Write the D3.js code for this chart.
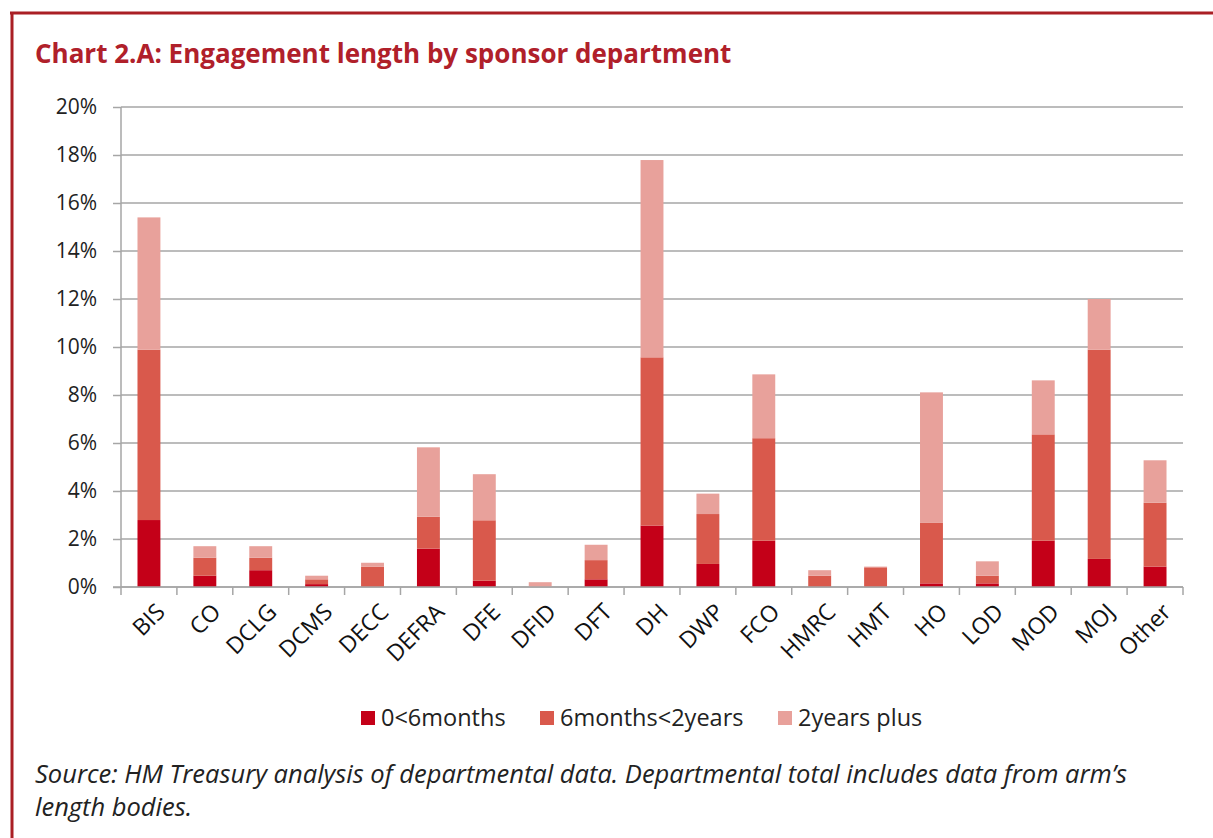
<!DOCTYPE html>
<html>
<head>
<meta charset="utf-8">
<script src="https://d3js.org/d3.v7.min.js"></script>
<style>
  body { margin: 0; background: #fff; }
  svg { display: block; font-family: "Open Sans", "Noto Sans", sans-serif; }
</style>
</head>
<body>
<div id="chart"></div>
<script>
// data (percent of total)
var departments = ["BIS", "CO", "DCLG", "DCMS", "DECC", "DEFRA", "DFE", "DFID", "DFT", "DH",
  "DWP", "FCO", "HMRC", "HMT", "HO", "LOD", "MOD", "MOJ", "Other"];
var under6months = [2.79, 0.47, 0.70, 0.12, 0.00, 1.60, 0.26, 0.00, 0.32, 2.56,
  0.96, 1.93, 0.00, 0.00, 0.15, 0.15, 1.93, 1.17, 0.85];
var sixMonthsTo2Years = [7.10, 0.75, 0.52, 0.20, 0.85, 1.33, 2.52, 0.00, 0.80, 7.01,
  2.08, 4.27, 0.47, 0.82, 2.52, 0.32, 4.43, 8.72, 2.66];
var twoYearsPlus = [5.51, 0.48, 0.48, 0.15, 0.16, 2.89, 1.92, 0.20, 0.64, 8.22,
  0.85, 2.66, 0.23, 0.03, 5.44, 0.60, 2.25, 2.11, 1.77];
var seriesNames = ["0<6months", "6months<2years", "2years plus"];
var yTicks = [0, 2, 4, 6, 8, 10, 12, 14, 16, 18, 20];

var width = 1213, height = 838;
var colors = ["#C40018", "#D9594C", "#E8A19B"];
var red = "#B0202A";
var font = "'Open Sans', 'Noto Sans', sans-serif";

var svg = d3.select("#chart").append("svg")
  .attr("width", width)
  .attr("height", height);

// frame (top and left red border)
svg.append("line")
  .attr("x1", 10).attr("x2", width).attr("y1", 13).attr("y2", 13)
  .style("stroke", "#AA1F24").style("stroke-width", 3);
svg.append("line")
  .attr("x1", 12).attr("x2", 12).attr("y1", 12).attr("y2", height)
  .style("stroke", "#AA1F24").style("stroke-width", 3);

// title
svg.append("text")
  .attr("x", 35)
  .attr("y", 63)
  .style("font-size", "26px")
  .style("font-weight", "bold")
  .style("fill", red)
  .text("Chart 2.A: Engagement length by sponsor department");

var margin = {top: 107, left: 121, right: 30, bottom: 251};

var x = d3.scaleBand()
  .domain(departments)
  .range([margin.left, width - margin.right])
  .paddingInner(0.59)
  .paddingOuter(0.295);

var y = d3.scaleLinear()
  .domain([0, 20])
  .range([height - margin.bottom, margin.top]);

// gridlines
svg.append("g").selectAll("line").data(yTicks)
  .enter().append("line")
  .attr("x1", margin.left)
  .attr("x2", width - margin.right)
  .attr("y1", function(d) { return y(d); })
  .attr("y2", function(d) { return y(d); })
  .style("stroke", "#A6A6A6")
  .style("stroke-width", 1.5);

// stack the three series
var table = departments.map(function(d, i) {
  var row = {dept: d};
  row[seriesNames[0]] = under6months[i];
  row[seriesNames[1]] = sixMonthsTo2Years[i];
  row[seriesNames[2]] = twoYearsPlus[i];
  return row;
});
var stack = d3.stack().keys(seriesNames);
var stacked = stack(table);

svg.append("g").selectAll("g")
  .data(stacked)
  .enter().append("g")
  .style("fill", function(d, i) { return colors[i]; })
  .selectAll("rect")
  .data(function(d) { return d; })
  .enter().append("rect")
  .attr("x", function(d) { return x(d.data.dept); })
  .attr("y", function(d) { return y(d[1]); })
  .attr("width", x.bandwidth())
  .attr("height", function(d) { return y(d[0]) - y(d[1]); });

// y axis
var yAxis = d3.axisLeft(y)
  .tickValues(yTicks)
  .tickSize(8)
  .tickFormat(function(d) { return d + "%"; });
var gy = svg.append("g")
  .attr("transform", "translate(" + margin.left + ",0)")
  .call(yAxis);
gy.select(".domain").style("stroke", "#A6A6A6").style("stroke-width", 1.5)
  .attr("d", "M0," + y(0) + "V" + y(20));
gy.selectAll(".tick line").style("stroke", "#A6A6A6").style("stroke-width", 1.5);
gy.selectAll(".tick text")
  .attr("x", -24)
  .style("font-family", font)
  .style("font-size", "21px")
  .style("fill", "#222");

// x axis: ticks between categories
var step = x.step();
var xBase = height - margin.bottom;
var gx = svg.append("g");
gx.append("line")
  .attr("x1", margin.left - 8).attr("x2", width - margin.right)
  .attr("y1", xBase).attr("y2", xBase)
  .style("stroke", "#A6A6A6").style("stroke-width", 1.5);
gx.selectAll("line.tk").data(d3.range(departments.length + 1))
  .enter().append("line")
  .attr("class", "tk")
  .attr("x1", function(i) { return margin.left + i * step; })
  .attr("x2", function(i) { return margin.left + i * step; })
  .attr("y1", xBase)
  .attr("y2", xBase + 8)
  .style("stroke", "#A6A6A6").style("stroke-width", 1.5);
gx.selectAll("text").data(departments)
  .enter().append("text")
  .attr("transform", function(d) {
    return "translate(" + (x(d) + x.bandwidth() / 2 + 6) + "," + (xBase + 15) + ") rotate(-45)";
  })
  .attr("text-anchor", "end")
  .attr("dy", "0.7em")
  .style("font-size", "23px")
  .style("fill", "#111")
  .text(function(d) { return d; });

// legend
var legendX = [361, 540, 778];
var legend = svg.append("g").selectAll("g").data(seriesNames)
  .enter().append("g")
  .attr("transform", function(d, i) { return "translate(" + legendX[i] + ",711)"; });
legend.append("rect")
  .attr("width", 14).attr("height", 14)
  .style("fill", function(d, i) { return colors[i]; });
legend.append("text")
  .attr("x", 20)
  .attr("y", 15)
  .style("font-size", "23.5px")
  .style("fill", "#222")
  .text(function(d) { return d; });

// source note
var note = svg.append("text")
  .attr("x", 35)
  .style("font-size", "25.5px")
  .style("font-style", "italic")
  .style("fill", "#222");
note.append("tspan").attr("x", 35).attr("y", 783)
  .text("Source: HM Treasury analysis of departmental data. Departmental total includes data from arm’s");
note.append("tspan").attr("x", 35).attr("y", 816)
  .text("length bodies.");
</script>
</body>
</html>
